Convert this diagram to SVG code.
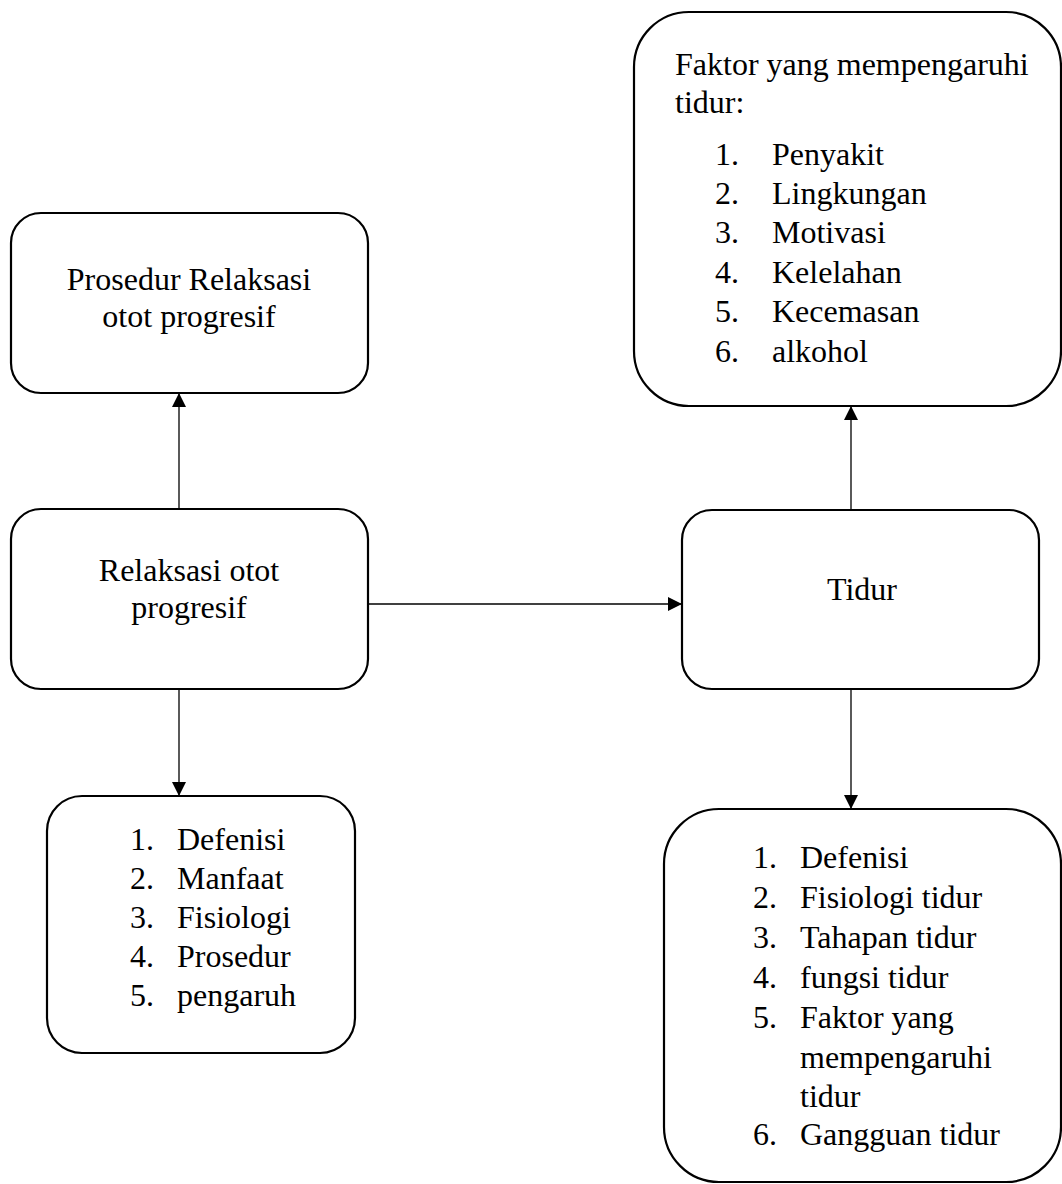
<svg xmlns="http://www.w3.org/2000/svg" width="1062" height="1184" viewBox="0 0 1062 1184">
<style>
.box{fill:#fff;stroke:#000;stroke-width:2.2}
.t{font-family:"Liberation Serif","Times New Roman",serif;font-size:32px;fill:#000}
.c{text-anchor:middle}
.conn{stroke:#000;stroke-width:1.3;fill:none}
</style>
<defs>
<marker id="ah" markerUnits="userSpaceOnUse" markerWidth="14" markerHeight="14" refX="14" refY="7" orient="auto">
<path d="M0,0 L14,7 L0,14 z" fill="#000"/>
</marker>
</defs>
<rect width="1062" height="1184" fill="#fff"/>
<g id="connectors">
<line class="conn" x1="179" y1="509" x2="179" y2="393" marker-end="url(#ah)"/>
<line class="conn" x1="368" y1="604" x2="682" y2="604" marker-end="url(#ah)"/>
<line class="conn" x1="179" y1="689" x2="179" y2="796" marker-end="url(#ah)"/>
<line class="conn" x1="851" y1="510" x2="851" y2="406" marker-end="url(#ah)"/>
<line class="conn" x1="851" y1="689" x2="851" y2="809" marker-end="url(#ah)"/>
</g>
<g id="prosedur">
<rect class="box" x="11" y="213" width="357" height="180" rx="30"/>
<text class="t c" x="189" y="290">Prosedur Relaksasi</text>
<text class="t c" x="189" y="327">otot progresif</text>
</g>
<g id="faktor">
<rect class="box" x="634" y="12" width="427" height="394" rx="55"/>
<text class="t" x="675" y="75">Faktor yang mempengaruhi</text>
<text class="t" x="675" y="113">tidur:</text>
<text class="t" x="715" y="165">1.</text><text class="t" x="772" y="165">Penyakit</text>
<text class="t" x="715" y="204">2.</text><text class="t" x="772" y="204">Lingkungan</text>
<text class="t" x="715" y="243">3.</text><text class="t" x="772" y="243">Motivasi</text>
<text class="t" x="715" y="283">4.</text><text class="t" x="772" y="283">Kelelahan</text>
<text class="t" x="715" y="322">5.</text><text class="t" x="772" y="322">Kecemasan</text>
<text class="t" x="715" y="362">6.</text><text class="t" x="772" y="362">alkohol</text>
</g>
<g id="relaksasi">
<rect class="box" x="11" y="509" width="357" height="180" rx="30"/>
<text class="t c" x="189" y="581">Relaksasi otot</text>
<text class="t c" x="189" y="618">progresif</text>
</g>
<g id="tidur">
<rect class="box" x="682" y="510" width="357" height="179" rx="30"/>
<text class="t c" x="862" y="600">Tidur</text>
</g>
<g id="list-relaksasi">
<rect class="box" x="47" y="796" width="308" height="257" rx="35"/>
<text class="t" x="130" y="850">1.</text><text class="t" x="177" y="850">Defenisi</text>
<text class="t" x="130" y="889">2.</text><text class="t" x="177" y="889">Manfaat</text>
<text class="t" x="130" y="928">3.</text><text class="t" x="177" y="928">Fisiologi</text>
<text class="t" x="130" y="967">4.</text><text class="t" x="177" y="967">Prosedur</text>
<text class="t" x="130" y="1006">5.</text><text class="t" x="177" y="1006">pengaruh</text>
</g>
<g id="list-tidur">
<rect class="box" x="664" y="809" width="397" height="373" rx="55"/>
<text class="t" x="753" y="868">1.</text><text class="t" x="800" y="868">Defenisi</text>
<text class="t" x="753" y="908">2.</text><text class="t" x="800" y="908">Fisiologi tidur</text>
<text class="t" x="753" y="948">3.</text><text class="t" x="800" y="948">Tahapan tidur</text>
<text class="t" x="753" y="988">4.</text><text class="t" x="800" y="988">fungsi tidur</text>
<text class="t" x="753" y="1028">5.</text><text class="t" x="800" y="1028">Faktor yang</text>
<text class="t" x="800" y="1068">mempengaruhi</text>
<text class="t" x="800" y="1107">tidur</text>
<text class="t" x="753" y="1145">6.</text><text class="t" x="800" y="1145">Gangguan tidur</text>
</g>
</svg>
